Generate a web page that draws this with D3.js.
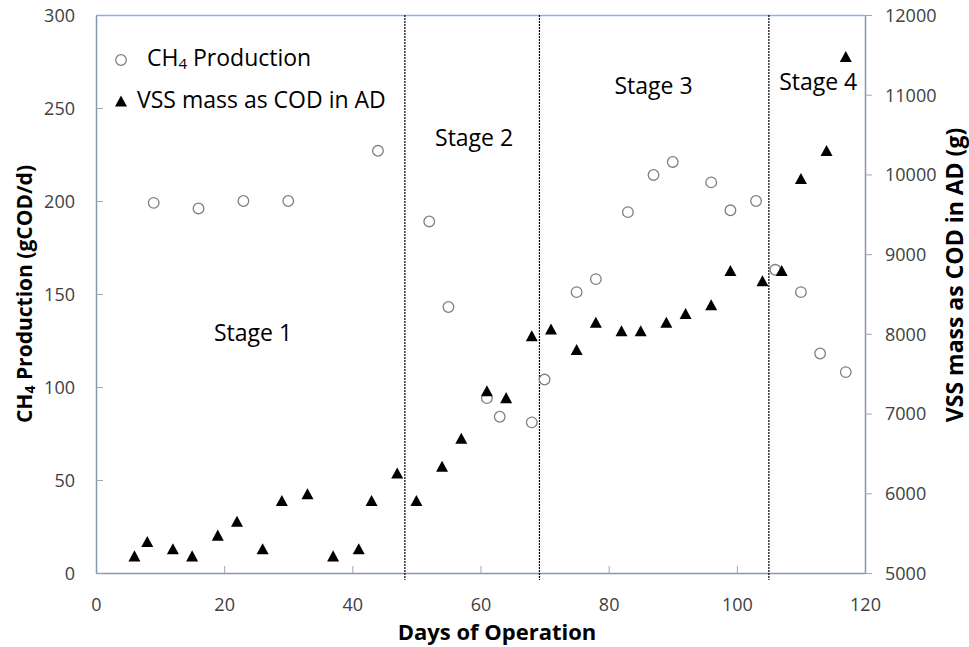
<!DOCTYPE html>
<html>
<head>
<meta charset="utf-8">
<script src="https://cdn.jsdelivr.net/npm/d3@7"></script>
<style>
  html, body { margin: 0; padding: 0; background: #fff; }
  svg { display: block; font-family: "Open Sans", sans-serif; }
</style>
</head>
<body>
<svg id="chart" width="969" height="647"></svg>
<script>
// Methane production (left axis), by day of operation
const ch4Days   = [9, 16, 23, 30, 44, 52, 55, 61, 63, 68, 70, 75, 78, 83, 87, 90, 96, 99, 103, 106, 110, 113, 117];
const ch4Values = [199, 196, 200, 200, 227, 189, 143, 94, 84, 81, 104, 151, 158, 194, 214, 221, 210, 195, 200, 163, 151, 118, 108];

// VSS mass as COD in the digester (right axis), by day of operation
const vssDays   = [6, 8, 12, 15, 19, 22, 26, 29, 33, 37, 41, 43, 47, 50, 54, 57, 61, 64, 68, 71, 75, 78, 82, 85, 89, 92, 96, 99, 104, 107, 110, 114, 117];
const vssValues = [5215, 5395, 5305, 5215, 5475, 5650, 5305, 5910, 5995, 5215, 5305, 5910, 6255, 5910, 6340, 6690, 7285, 7200, 7975, 8060, 7805, 8145, 8040, 8040, 8145, 8255, 8365, 8795, 8665, 8795, 9950, 10300, 11480];

// Stage boundaries (days) and stage names
const stageBounds = [48.2, 69.2, 105];
const stageNames  = ["Stage 1", "Stage 2", "Stage 3", "Stage 4"];
const stageLabelDay = [24.5, 59, 87, 112.7];
const stageLabelCH4 = [128, 233, 261, 263];

// Axis ticks
const xTicks  = [0, 20, 40, 60, 80, 100, 120];
const yLTicks = [0, 50, 100, 150, 200, 250, 300];
const yRTicks = [5000, 6000, 7000, 8000, 9000, 10000, 11000, 12000];

const svg = d3.select("#chart");
const plot = { left: 96, right: 865, top: 15, bottom: 573 };

const x  = d3.scaleLinear().domain([0, 120]).range([plot.left, plot.right]);
const yL = d3.scaleLinear().domain([0, 300]).range([plot.bottom, plot.top]);
const yR = d3.scaleLinear().domain([5000, 12000]).range([plot.bottom, plot.top]);

const axisColor = "#8496b0";
const tickText = "#404040";

// Top border of the plot area
svg.append("line")
  .attr("x1", plot.left).attr("x2", plot.right).attr("y1", plot.top + 0.5).attr("y2", plot.top + 0.5)
  .attr("stroke", "#8db3e2").attr("stroke-width", 1.5);

// Bottom axis: ticks point into the plot
const gx = svg.append("g").attr("transform", `translate(0,${plot.bottom})`)
  .call(d3.axisBottom(x).tickValues(xTicks).tickSizeInner(-7).tickSizeOuter(0).tickPadding(33));
// Left axis: ticks point into the plot
const gyl = svg.append("g").attr("transform", `translate(${plot.left},0)`)
  .call(d3.axisLeft(yL).tickValues(yLTicks).tickSizeInner(-7).tickSizeOuter(0).tickPadding(21));
// Right axis: ticks point outward
const gyr = svg.append("g").attr("transform", `translate(${plot.right},0)`)
  .call(d3.axisRight(yR).tickValues(yRTicks).tickFormat(d3.format("d"))
    .tickSizeInner(7).tickSizeOuter(0).tickPadding(13));

[gx, gyl, gyr].forEach(g => {
  g.select(".domain").attr("stroke", axisColor).attr("stroke-width", 1.5);
  g.selectAll(".tick line").attr("stroke", "#a6a6a6").attr("stroke-width", 1);
  g.selectAll(".tick text").attr("fill", tickText).attr("font-size", 18)
    .attr("font-family", "'Open Sans', sans-serif");
});
gx.selectAll(".tick text").attr("dy", 0).attr("dominant-baseline", "middle");
gyl.selectAll(".tick text").attr("dy", "0.35em");
gyr.selectAll(".tick text").attr("dy", "0.35em");

// Stage boundaries
svg.append("g").selectAll("line").data(stageBounds).join("line")
  .attr("x1", d => x(d)).attr("x2", d => x(d))
  .attr("y1", plot.top).attr("y2", plot.bottom + 7)
  .attr("stroke", "#000").attr("stroke-width", 1.2).attr("stroke-dasharray", "2,1");

// Stage labels
svg.append("g").selectAll("text").data(stageNames).join("text")
  .attr("x", (d, i) => x(stageLabelDay[i]))
  .attr("y", (d, i) => yL(stageLabelCH4[i]))
  .attr("text-anchor", "middle").attr("dominant-baseline", "middle")
  .attr("font-size", 23).attr("fill", "#000")
  .text(d => d);

// Bounding-box centred triangle marker
const triangle = {
  draw(ctx, size) {
    const w = Math.sqrt(size), h = w * 0.92;
    ctx.moveTo(0, -h / 2);
    ctx.lineTo(w / 2, h / 2);
    ctx.lineTo(-w / 2, h / 2);
    ctx.closePath();
  }
};
const triPath = d3.symbol().type(triangle).size(144);

// CH4 production: open circles
svg.append("g").selectAll("circle").data(ch4Days).join("circle")
  .attr("cx", d => x(d))
  .attr("cy", (d, i) => yL(ch4Values[i]))
  .attr("r", 5.3)
  .attr("fill", "#fff").attr("stroke", "#7f7f7f").attr("stroke-width", 1.3);

// VSS mass: filled triangles
svg.append("g").selectAll("path").data(vssDays).join("path")
  .attr("transform", (d, i) => `translate(${x(d)},${yR(vssValues[i])})`)
  .attr("d", triPath())
  .attr("fill", "#000");

// Legend
const legend = svg.append("g");
legend.append("circle").attr("cx", 121).attr("cy", 60).attr("r", 5.3)
  .attr("fill", "#fff").attr("stroke", "#7f7f7f").attr("stroke-width", 1.3);
const l1 = legend.append("text").attr("x", 147).attr("y", 60)
  .attr("dominant-baseline", "middle").attr("font-size", 23).attr("fill", "#000");
l1.append("tspan").text("CH");
l1.append("tspan").attr("font-size", 15).attr("dy", 5).text("4");
l1.append("tspan").attr("dy", -5).text(" Production");
legend.append("path").attr("transform", "translate(121,101)").attr("d", triPath()).attr("fill", "#000");
legend.append("text").attr("x", 137).attr("y", 102)
  .attr("dominant-baseline", "middle").attr("font-size", 23).attr("fill", "#000")
  .text("VSS mass as COD in AD");

// Axis titles
svg.append("text")
  .attr("x", 497).attr("y", 634)
  .attr("text-anchor", "middle").attr("dominant-baseline", "middle")
  .attr("font-size", 22).attr("font-weight", "bold").attr("fill", "#000")
  .text("Days of Operation");

const lt = svg.append("text")
  .attr("transform", `translate(26,${(plot.top + plot.bottom) / 2}) rotate(-90)`)
  .attr("text-anchor", "middle").attr("dominant-baseline", "middle")
  .attr("font-size", 21).attr("font-weight", "bold").attr("fill", "#000");
lt.append("tspan").text("CH");
lt.append("tspan").attr("font-size", 14).attr("dy", 5).text("4");
lt.append("tspan").attr("dy", -5).text(" Production (gCOD/d)");

svg.append("text")
  .attr("transform", `translate(957,275) rotate(-90)`)
  .attr("text-anchor", "middle").attr("dominant-baseline", "middle")
  .attr("font-size", 23).attr("font-weight", "bold").attr("fill", "#000")
  .text("VSS mass as COD in AD (g)");
</script>
</body>
</html>
